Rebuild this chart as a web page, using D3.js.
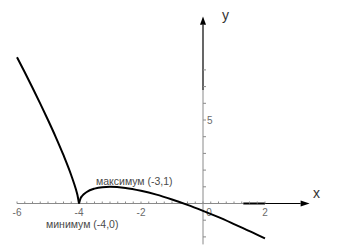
<!DOCTYPE html>
<html>
<head>
<meta charset="utf-8">
<script src="https://cdn.jsdelivr.net/npm/d3@7"></script>
<style>
  body { margin: 0; background: #fff; }
  svg { display: block; font-family: "Liberation Sans", Arial, sans-serif; }
</style>
</head>
<body>
<script>
// curve, split at the cusp (-4,0)
const leftX = [-6, -5.75, -5.5, -5.25, -5, -4.75, -4.5, -4.25, -4.1, -4.05, -4];
const leftY = [8.76, 7.86, 6.93, 5.98, 5.0, 3.98, 2.89, 1.69, 0.85, 0.51, 0];
const rightX = [-4, -3.95, -3.9, -3.75, -3.5, -3.25, -3, -2.5, -2, -1.5, -1, -0.5, 0, 0.5, 1, 1.5, 2];
const rightY = [0, 0.31, 0.45, 0.69, 0.89, 0.98, 1.0, 0.93, 0.76, 0.53, 0.24, -0.08, -0.44, -0.82, -1.23, -1.65, -2.09];

const xTickLabels = [-6, -4, -2, 0, 2];
const yTickLabels = [5];
const notes = [
  {x: -3, y: 1, text: "максимум (-3,1)"},
  {x: -4, y: 0, text: "минимум (-4,0)"}
];

const width = 344, height = 251;

const svg = d3.select("body").append("svg")
  .attr("width", width)
  .attr("height", height);

const x = d3.scaleLinear().domain([-6, 2]).range([17, 265]);
const y = d3.scaleLinear().domain([0, 5]).range([203.5, 120]);

const grey = "#8a8a8a";

// x axis (grey part, then black end with arrow)
svg.append("line")
  .attr("x1", x(-6)).attr("x2", x(1.3))
  .attr("y1", y(0)).attr("y2", y(0))
  .attr("stroke", grey).attr("stroke-width", 1);
svg.append("line")
  .attr("x1", x(1.3)).attr("x2", x(2))
  .attr("y1", y(0)).attr("y2", y(0))
  .attr("stroke", "#000").attr("stroke-width", 2);
svg.append("line")
  .attr("x1", x(2)).attr("x2", x(3.15))
  .attr("y1", y(0)).attr("y2", y(0))
  .attr("stroke", "#000").attr("stroke-width", 1);
svg.append("path")
  .attr("d", `M${x(3.44)},${y(0)} L${x(3.15)},${y(0) - 3} L${x(3.15)},${y(0) + 3} Z`)
  .attr("fill", "#000");

// minor ticks every 0.25 on x
svg.selectAll(".xt")
  .data(d3.range(-6, 2.01, 0.25))
  .enter().append("line")
  .attr("class", "xt")
  .attr("x1", d => x(d)).attr("x2", d => x(d))
  .attr("y1", y(0)).attr("y2", y(0) - 2)
  .attr("stroke", grey);

// y axis
svg.append("line")
  .attr("x1", x(0)).attr("x2", x(0))
  .attr("y1", y(-2.45)).attr("y2", y(6.8))
  .attr("stroke", grey).attr("stroke-width", 1);
svg.append("line")
  .attr("x1", x(0)).attr("x2", x(0))
  .attr("y1", y(6.8)).attr("y2", y(10.7))
  .attr("stroke", "#000").attr("stroke-width", 1.2);
svg.append("path")
  .attr("d", `M${x(0)},${y(11.2)} L${x(0) - 3},${y(10.7)} L${x(0) + 3},${y(10.7)} Z`)
  .attr("fill", "#000");

svg.selectAll(".yt")
  .data(d3.range(-2, 9))
  .enter().append("line")
  .attr("class", "yt")
  .attr("x1", x(0)).attr("x2", x(0) + 3)
  .attr("y1", d => y(d)).attr("y2", d => y(d))
  .attr("stroke", grey);

// tick labels
svg.selectAll(".xl")
  .data(xTickLabels)
  .enter().append("text")
  .attr("class", "xl")
  .attr("x", d => d === 0 ? x(d) + 6 : x(d))
  .attr("y", y(0) + 12)
  .attr("text-anchor", "middle")
  .attr("font-size", 10)
  .attr("fill", "#6a6a6a")
  .text(d => d);

svg.selectAll(".yl")
  .data(yTickLabels)
  .enter().append("text")
  .attr("class", "yl")
  .attr("x", x(0) + 4)
  .attr("y", d => y(d) + 4)
  .attr("font-size", 10)
  .attr("fill", "#6a6a6a")
  .text(d => d);

// axis names
svg.append("text").attr("x", x(3.55)).attr("y", y(0) - 6)
  .attr("font-size", 14).attr("fill", "#333").text("x");
svg.append("text").attr("x", x(0) + 19).attr("y", y(11))
  .attr("font-size", 14).attr("fill", "#333").text("y");

// curve
const line = d3.line()
  .x(d => x(d[0]))
  .y(d => y(d[1]))
  .curve(d3.curveMonotoneX);

svg.append("path")
  .datum(d3.zip(leftX, leftY))
  .attr("d", line)
  .attr("fill", "none").attr("stroke", "#000").attr("stroke-width", 2);
svg.append("path")
  .datum(d3.zip(rightX, rightY))
  .attr("d", line)
  .attr("fill", "none").attr("stroke", "#000").attr("stroke-width", 2);

// point notes
svg.append("text")
  .attr("x", x(notes[0].x) - 14).attr("y", y(notes[0].y) - 2)
  .attr("font-size", 10.5).attr("fill", "#4a4a4a")
  .text(notes[0].text);
svg.append("text")
  .attr("x", x(notes[1].x) - 33).attr("y", y(notes[1].y) + 24.5)
  .attr("font-size", 10.5).attr("fill", "#4a4a4a")
  .text(notes[1].text);
</script>
</body>
</html>
